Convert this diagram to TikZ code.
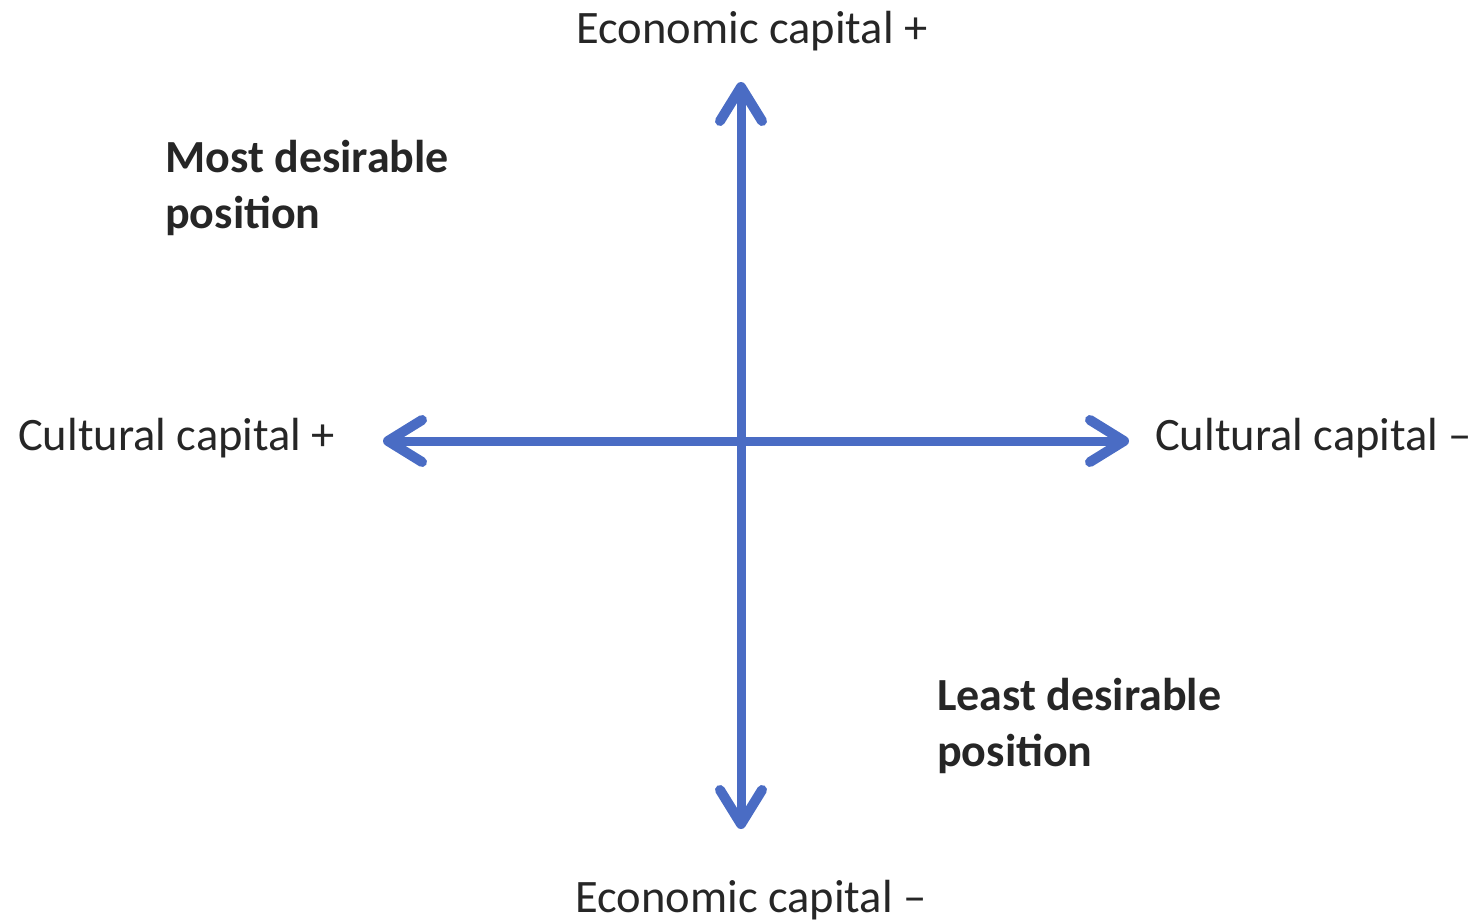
\documentclass[tikz,border=0pt]{standalone}
\usepackage{fontspec}
\setmainfont{Carlito}
\usetikzlibrary{arrows.meta}
\definecolor{axisblue}{HTML}{4A6CC4}
\begin{document}
\begin{tikzpicture}[x=1pt,y=-1pt,
  axis/.style={draw=axisblue,line width=9pt,
    -{Straight Barb[length=34pt,width=42pt,line width=10pt,round]}},
  lbl/.style={inner sep=0pt,font=\fontsize{46.5}{56}\selectfont,text=black!85},
  bl/.style={inner sep=0pt,font=\fontsize{46}{56}\selectfont\bfseries,text=black!85,align=left}]
\useasboundingbox (0,0) rectangle (1473,921);
\coordinate (c) at (741,441);
\coordinate (top) at (741,82);
\coordinate (bot) at (741,829);
\coordinate (lft) at (383,441);
\coordinate (rgt) at (1129,441);
\draw[axis] (c) -- (top);
\draw[axis] (c) -- (bot);
\draw[axis] (c) -- (lft);
\draw[axis] (c) -- (rgt);
\node[lbl,anchor=base] (ectop) at (752,43) {Economic capital +};
\node[lbl,anchor=base] (ecbot) at (751,912) {Economic capital –};
\node[lbl,anchor=base west] (ccl) at (18,450) {Cultural capital +};
\node[lbl,anchor=base west] (ccr) at (1155,450) {Cultural capital –};
\node[bl,anchor=base west] (most) at (165,228) {Most desirable\\position};
\node[bl,anchor=base west] (least) at (937,766) {Least desirable\\position};
\end{tikzpicture}
\end{document}
